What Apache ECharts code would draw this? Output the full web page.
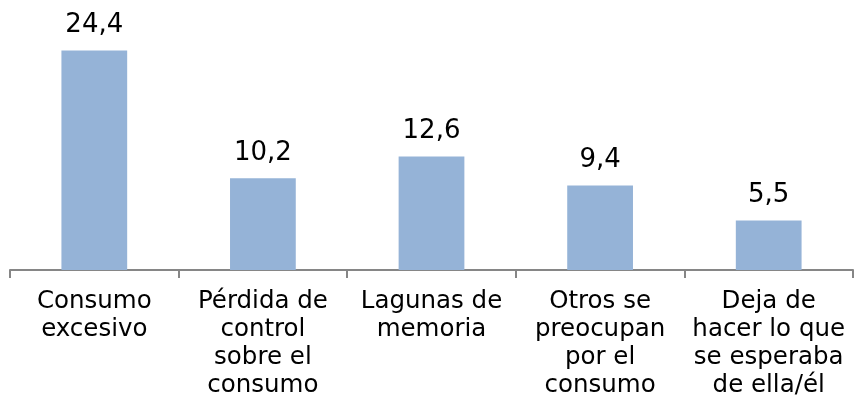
<!DOCTYPE html>
<html><head><meta charset="utf-8">
<script src="https://cdn.jsdelivr.net/npm/echarts@6/dist/echarts.min.js"></script>
<style>html,body{margin:0;padding:0;background:#fff}#c{width:855px;height:400px}</style>
</head><body><div id="c"></div>
<script>
const categories = ["Consumo\nexcesivo","Pérdida de\ncontrol\nsobre el\nconsumo","Lagunas de\nmemoria","Otros se\npreocupan\npor el\nconsumo","Deja de\nhacer lo que\nse esperaba\nde ella/él"];
const values = [24.4, 10.2, 12.6, 9.4, 5.5];
const chart = echarts.init(document.getElementById('c'));
const FONT = '"DejaVu Sans", sans-serif';
chart.setOption({
  animation:false,
  grid:{left:10,right:2,top:0,bottom:126,containLabel:false},
  xAxis:{type:'category',data:categories,
    axisLine:{lineStyle:{color:'#868686',width:2}},
    axisTick:{show:true,length:8,lineStyle:{color:'#868686',width:2}},
    axisLabel:{interval:0,color:'#000',fontFamily:FONT,fontSize:24.5,lineHeight:28,margin:18,verticalAlign:'top'}},
  yAxis:{type:'value',min:0,max:30,show:false,splitLine:{show:false}},
  series:[{type:'bar',data:values,barWidth:'39%',itemStyle:{color:'#95B3D7'},
    label:{show:true,position:'top',distance:12,color:'#000',fontFamily:FONT,fontSize:26,
      formatter:p=>String(p.value).replace('.',',')}}]
});
</script></body></html>
